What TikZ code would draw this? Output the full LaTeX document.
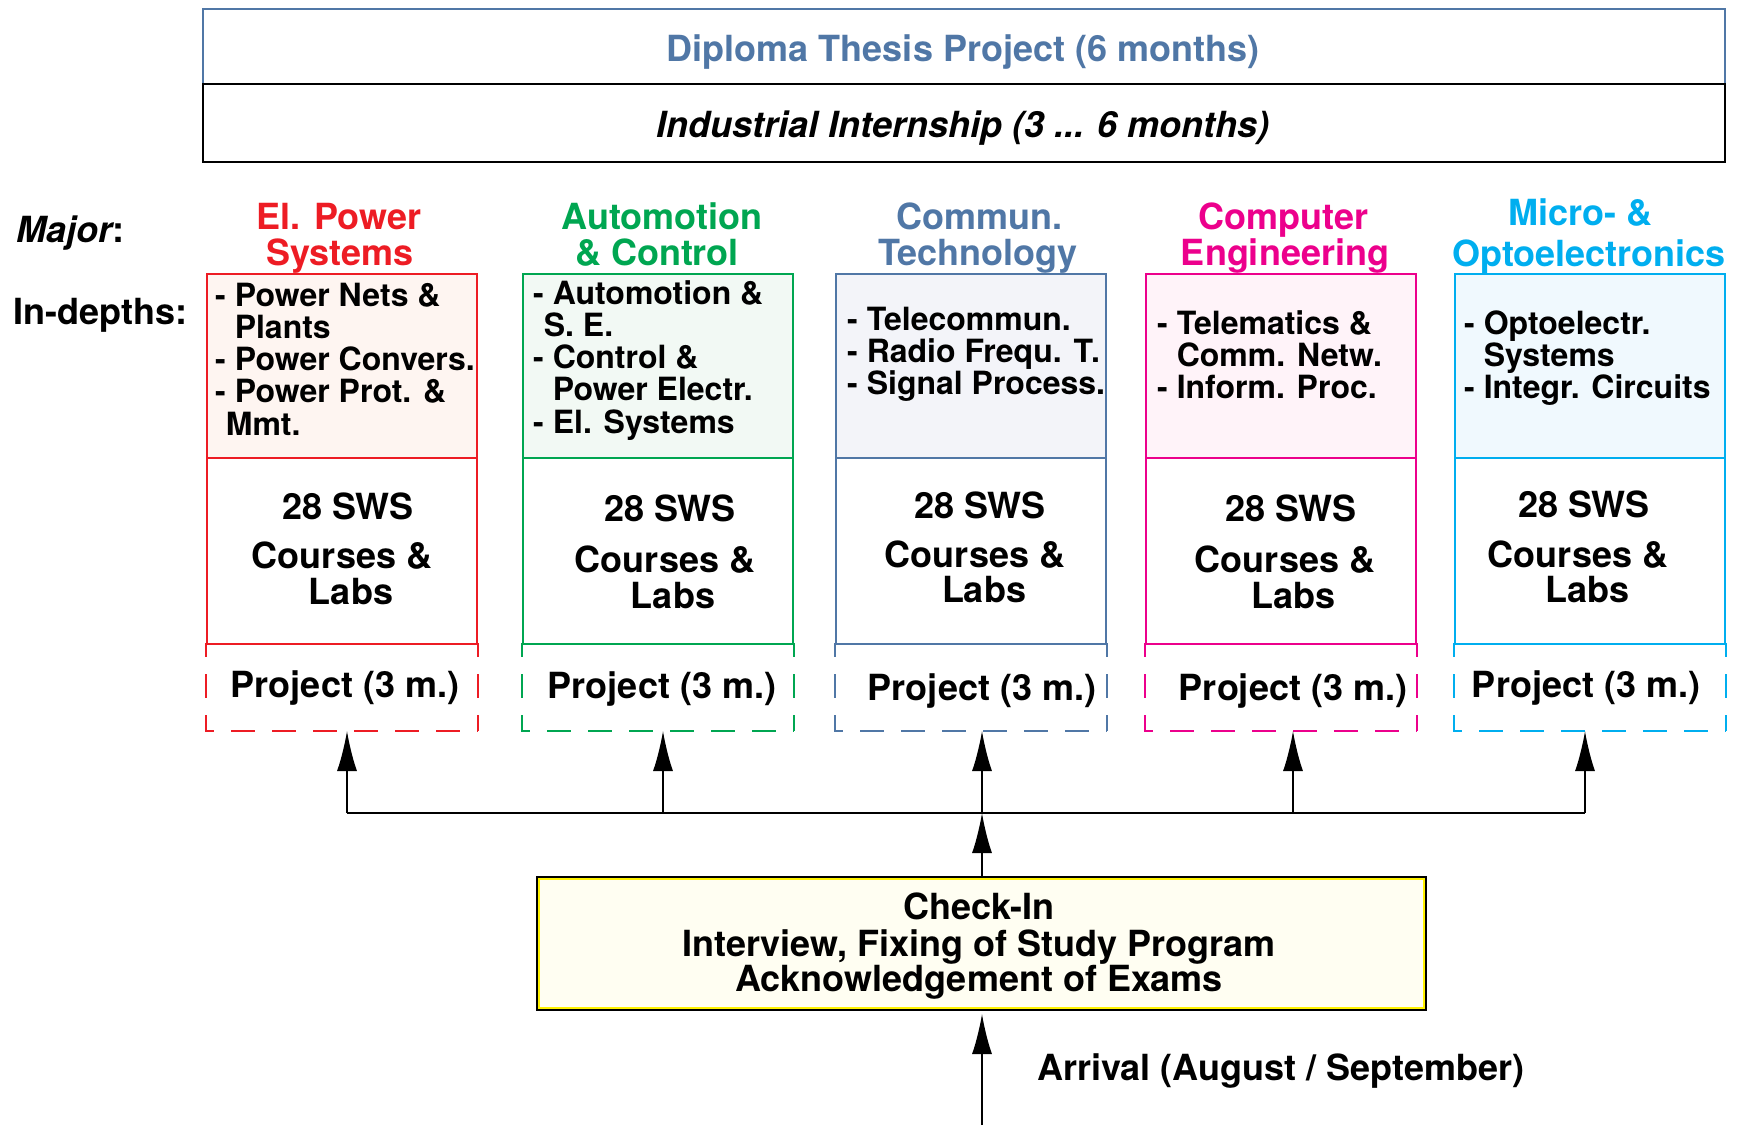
\documentclass[tikz,border=0pt]{standalone}
\usepackage{fontspec}
\setmainfont{TeX Gyre Heros}
\usetikzlibrary{arrows.meta}
\definecolor{cred}{HTML}{ED1C24}
\definecolor{cgreen}{HTML}{00A651}
\definecolor{cblue}{HTML}{5077A6}
\definecolor{cpink}{HTML}{EC008C}
\definecolor{ccyan}{HTML}{00AEEF}
\definecolor{fred}{HTML}{FEF5F1}
\definecolor{fgreen}{HTML}{F2F9F4}
\definecolor{fblue}{HTML}{F3F4F9}
\definecolor{fpink}{HTML}{FFF3F9}
\definecolor{fcyan}{HTML}{F0F9FE}
\definecolor{fcheck}{HTML}{FFFEF2}
\definecolor{cyel}{HTML}{FFF200}
\begin{document}
\begin{tikzpicture}[x=1pt,y=-1pt,
 big/.style={font=\fontsize{36}{36}\selectfont\bfseries, inner sep=0pt},
 small/.style={font=\fontsize{32}{32}\selectfont\bfseries, inner sep=0pt, anchor=base west},
 sect/.style={line width=2pt, anchor=north west, minimum width=270pt, inner sep=0pt},
 indepth/.style={sect, minimum height=184pt},
 courses/.style={sect, minimum height=186pt, fill=white},
 proj/.style={sect, minimum height=86pt},
 pdash/.style={line width=2pt, dash pattern=on 24pt off 17pt, dash phase=10pt},
 conn/.style={line width=1.5pt},
 arr/.style={conn, -{Latex[length=40pt,width=20pt]}},
]
\useasboundingbox (0,0) rectangle (1747,1125);
% top boxes
\node[draw=cblue, line width=1.5pt, anchor=north west, minimum width=1522pt, minimum height=75pt, inner sep=0pt] (thesis) at (202,8) {};
\node[draw=black, line width=2pt, anchor=north west, minimum width=1522pt, minimum height=78pt, inner sep=0pt] (intern) at (202,83) {};
\node[big, text=cblue, anchor=base] (thesistxt) at (963,61) {Diploma Thesis Project (6 months)};
\node[big, anchor=base] (interntxt) at (963,137) {\itshape Industrial Internship (3 ... 6 months)};
% row labels
\node[big, anchor=base west] (major) at (16,242) {{\itshape Major}:};
\node[big, anchor=base west] (indepths) at (13,324) {In-depths:};
% columns: boxes
\node[indepth, draw=cred, fill=fred] (d1) at (206,273) {};
\node[courses, draw=cred] (c1) at (206,457) {};
\node[proj] (p1) at (206,643) {};
\node[indepth, draw=cgreen, fill=fgreen] (d2) at (522,273) {};
\node[courses, draw=cgreen] (c2) at (522,457) {};
\node[proj] (p2) at (522,643) {};
\node[indepth, draw=cblue, fill=fblue] (d3) at (835,273) {};
\node[courses, draw=cblue] (c3) at (835,457) {};
\node[proj] (p3) at (835,643) {};
\node[indepth, draw=cpink, fill=fpink] (d4) at (1145,273) {};
\node[courses, draw=cpink] (c4) at (1145,457) {};
\node[proj] (p4) at (1145,643) {};
\node[indepth, draw=ccyan, fill=fcyan] (d5) at (1454,273) {};
\node[courses, draw=ccyan] (c5) at (1454,457) {};
\node[proj] (p5) at (1454,643) {};
\foreach \p/\c in {p1/cred,p2/cgreen,p3/cblue,p4/cpink,p5/ccyan}{
  \draw[pdash, \c] (\p.north west) -- (\p.south west) -- (\p.south east);
  \draw[pdash, \c] (\p.north east) -- (\p.south east);
}
% major titles
\node[big, text=cred, anchor=base] (m1a) at (339,229) {El. Power};
\node[big, text=cred, anchor=base] (m1b) at (340,265) {Systems};
\node[big, text=cgreen, anchor=base] (m2a) at (662,229) {Automotion};
\node[big, text=cgreen, anchor=base] (m2b) at (657,265) {\& Control};
\node[big, text=cblue, anchor=base] (m3a) at (979,229) {Commun.};
\node[big, text=cblue, anchor=base] (m3b) at (978,265) {Technology};
\node[big, text=cpink, anchor=base] (m4a) at (1283,229) {Computer};
\node[big, text=cpink, anchor=base] (m4b) at (1285,265) {Engineering};
\node[big, text=ccyan, anchor=base] (m5a) at (1580,225) {Micro- \&};
\node[big, text=ccyan, anchor=base] (m5b) at (1589,266) {Optoelectronics};
% in-depth lists
\foreach \t [count=\i from 0] in {{- Power Nets \&},{\phantom{- }Plants},{- Power Convers.},{- Power Prot. \&},{\phantom{-}Mmt.}}
  \node[small] (ia\i) at ({215},{306+32.3*\i}) {\t};
\foreach \t [count=\i from 0] in {{- Automotion \&},{\phantom{-}S. E.},{- Control \&},{\phantom{- }Power Electr.},{- El. Systems}}
  \node[small] (ib\i) at ({533},{304+32.3*\i}) {\t};
\foreach \t [count=\i from 0] in {{- Telecommun.},{- Radio Frequ. T.},{- Signal Process.}}
  \node[small] (ic\i) at ({847},{330+32.3*\i}) {\t};
\foreach \t [count=\i from 0] in {{- Telematics \&},{\phantom{- }Comm. Netw.},{- Inform. Proc.}}
  \node[small] (id\i) at ({1157},{334+32.3*\i}) {\t};
\foreach \t [count=\i from 0] in {{- Optoelectr.},{\phantom{- }Systems},{- Integr. Circuits}}
  \node[small] (ie\i) at ({1464},{334+32.3*\i}) {\t};
% courses text
\node[big, anchor=base] (s1) at (348,519) {28 SWS};
\node[big, anchor=base] (k1) at (342,568) {Courses \&};
\node[big, anchor=base] (l1) at (351,604) {Labs};
\node[big, anchor=base] (s2) at (670,521) {28 SWS};
\node[big, anchor=base] (k2) at (665,572) {Courses \&};
\node[big, anchor=base] (l2) at (673,608) {Labs};
\node[big, anchor=base] (s3) at (980,518) {28 SWS};
\node[big, anchor=base] (k3) at (975,567) {Courses \&};
\node[big, anchor=base] (l3) at (984,602) {Labs};
\node[big, anchor=base] (s4) at (1291,521) {28 SWS};
\node[big, anchor=base] (k4) at (1285,572) {Courses \&};
\node[big, anchor=base] (l4) at (1293,608) {Labs};
\node[big, anchor=base] (s5) at (1584,517) {28 SWS};
\node[big, anchor=base] (k5) at (1578,567) {Courses \&};
\node[big, anchor=base] (l5) at (1587,602) {Labs};
% project text
\node[big, anchor=base] (q1) at (345,697) {Project (3 m.)};
\node[big, anchor=base] (q2) at (662,698) {Project (3 m.)};
\node[big, anchor=base] (q3) at (982,700) {Project (3 m.)};
\node[big, anchor=base] (q4) at (1293,700) {Project (3 m.)};
\node[big, anchor=base] (q5) at (1586,697) {Project (3 m.)};
% check-in
\node[draw=black, line width=2pt, fill=fcheck, anchor=north west, minimum width=889pt, minimum height=133pt, inner sep=0pt] (ck) at (536,876) {};
\draw[cyel, line width=2pt] ([shift={(3,3)}]ck.north west) rectangle ([shift={(-3,-3)}]ck.south east);
\node[big, anchor=base] (ck1) at (979,919) {Check-In};
\node[big, anchor=base] (ck2) at (979,956) {Interview, Fixing of Study Program};
\node[big, anchor=base] (ck3) at (979,991) {Acknowledgement of Exams};
% connectors
\coordinate (b1) at (347,813);
\coordinate (b2) at (663,813);
\coordinate (b3) at (982,813);
\coordinate (b4) at (1293,813);
\coordinate (b5) at (1585,813);
\coordinate (start) at (982,1125);
\draw[line width=2pt] (b1) -- (b5);
\draw[arr] (b1) -- (b1 |- p1.south);
\draw[arr] (b2) -- (b2 |- p2.south);
\draw[arr] (b3) -- (b3 |- p3.south);
\draw[arr] (b4) -- (b4 |- p4.south);
\draw[arr] (b5) -- (b5 |- p5.south);
\draw[arr] (b3 |- ck.north) -- (b3);
\draw[arr, shorten >=3pt] (start) -- (start |- ck.south);
\node[big, anchor=base west] (arrival) at (1037,1080) {Arrival (August / September)};
\end{tikzpicture}
\end{document}
